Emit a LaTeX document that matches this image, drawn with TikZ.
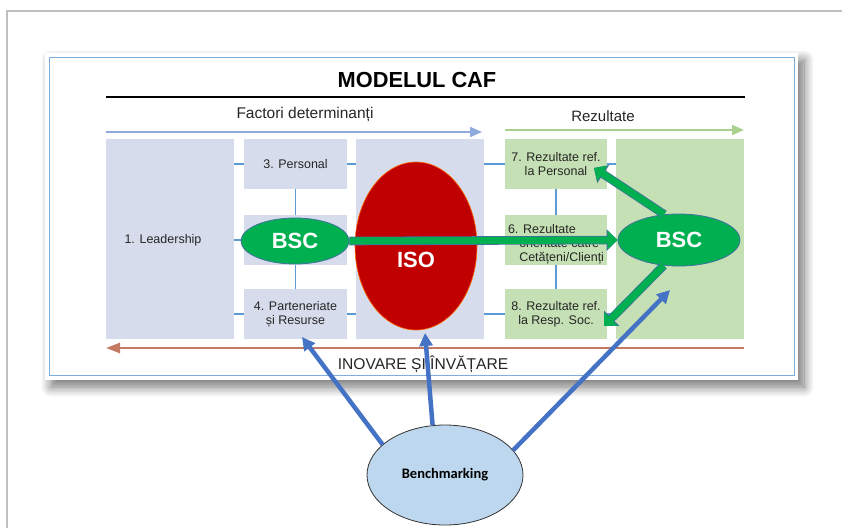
\documentclass[tikz,border=0pt]{standalone}
\usepackage{fontspec}
\setmainfont{Liberation Sans}
\newfontfamily\calibri{Carlito}
\usepackage{tikz}
\usetikzlibrary{arrows.meta,calc,positioning,shapes.geometric,shadows.blur}
\definecolor{boxblue}{RGB}{214,220,235}
\definecolor{boxgreen}{RGB}{197,224,180}
\definecolor{linkblue}{RGB}{91,155,213}
\definecolor{headblue}{RGB}{143,170,220}
\definecolor{headgreen}{RGB}{169,209,142}
\definecolor{innovred}{RGB}{196,121,99}
\definecolor{isored}{RGB}{192,0,0}
\definecolor{bscgreen}{RGB}{0,176,80}
\definecolor{edgeblue}{RGB}{65,113,156}
\definecolor{benchfill}{RGB}{189,215,238}
\definecolor{benchblue}{RGB}{68,114,196}
\tikzset{%
	boxtext/.style  = {align=center, font=\fontsize{12.5}{14}\selectfont, text=black!85},
	factor/.style   = {boxtext, fill=boxblue, inner sep=0pt, minimum width=103pt, minimum height=50pt},
	result/.style   = {factor, fill=boxgreen, minimum width=102pt},
	tall/.style     = {minimum width=128pt, minimum height=200pt},
	link/.style     = {draw=linkblue, line width=1.2pt},
	heading/.style  = {font=\fontsize{15.5}{18}\selectfont, text=black!85},
	bigtext/.style  = {font=\fontsize{22}{26}\selectfont\bfseries, text=white},
	bscshape/.style = {ellipse, fill=bscgreen, draw=edgeblue, line width=0.8pt, inner sep=0pt},
	bscarrow/.style = {draw=bscgreen, line width=7pt, -{Triangle[length=10pt,width=18pt]},
		preaction={draw=edgeblue, line width=8.6pt, -{Triangle[length=11pt,width=21pt]}}},
	bencharrow/.style = {draw=benchblue, line width=4.5pt, -{Triangle[length=13pt,width=13pt]}},
}

\begin{document}
\begin{tikzpicture}[x=1pt,y=-1pt]
	\useasboundingbox (0,0) rectangle (842,528);
	% screenshot frame
	\draw[black!25, line width=1.5pt] (842,11) -- (7,11) -- (7,528);
	% card with shadow
	\node[fill=white, inner sep=0pt, minimum width=753pt, minimum height=327pt,
		blur shadow={shadow xshift=6pt, shadow yshift=-7pt, shadow blur radius=10pt, shadow blur steps=12, shadow opacity=55}]
		(card) at (421.5,216.5) {};
	\draw[linkblue!80, line width=0.9pt] (49,57) rectangle (794,375);
	% title and headings
	\node[font=\fontsize{21.8}{26}\selectfont\bfseries] (title) at (417,80) {MODELUL CAF};
	\draw[line width=2pt] (106,97) -- (745,97);
	\node[heading] (factori) at (305,115) {Factori determinanți};
	\draw[headblue, line width=2pt, -{Triangle[length=12pt,width=10pt]}] (106,132) -- (482,132);
	\node[heading, font=\fontsize{15}{18}\selectfont] (rez) at (603,116) {Rezultate};
	\draw[headgreen, line width=2pt, -{Triangle[length=12pt,width=10pt]}] (505,130) -- (744,130);
	% boxes
	\node[factor, tall] (lead) at (170,239) {};
	\node[boxtext] (leadtxt) at (163,240) {1. Leadership};
	\node[factor] (pers) at (295.5,164) {3. Personal};
	\node[factor] (strat) at (295.5,240) {};
	\node[factor] (part) at (295.5,314) {4. Parteneriate\\ și Resurse};
	\node[factor, tall] (proc) at (420,239) {};
	\node[result] (res7) at (556,164) {7. Rezultate ref.\\ la Personal};
	\node[result] (res6) at (556,240) {};
	\node[boxtext, align=left] (res6txt) at (556,244) {6. Rezultate\\\hspace*{0.9em}orientate către\\\hspace*{0.9em}Cetățeni/Clienți};
	\node[result] (res8) at (556,314) {8. Rezultate ref.\\ la Resp. Soc.};
	\node[result, tall, minimum width=128pt] (resk) at (680,239) {};
	% links between boxes
	\draw[link] (lead.east |- pers) -- (pers.west);
	\draw[link] (pers.east) -- (proc.west |- pers);
	\draw[link] (lead.east |- strat) -- (strat.west);
	\draw[link] (lead.east |- part) -- (part.west);
	\draw[link] (part.east) -- (proc.west |- part);
	\draw[link] (pers.south) -- (strat.north);
	\draw[link] (strat.south) -- (part.north);
	\draw[link] (proc.east |- res7) -- (res7.west);
	\draw[link] (res7.east) -- (resk.west |- res7);
	\draw[link] (proc.east |- res8) -- (res8.west);
	\draw[link] (res8.east) -- (resk.west |- res8);
	\draw[link] (res7.south) -- (res6.north);
	\draw[link] (res6.south) -- (res8.north);
	% innovation arrow
	\draw[innovred, line width=2.5pt, -{Triangle[length=14pt,width=10pt]}] (744,348) -- (106,348);
	\node[font=\fontsize{15.6}{18}\selectfont, text=black!85] (inov) at (423,364) {INOVARE ȘI ÎNVĂȚARE};
	% ISO and BSC
	\node[ellipse, fill=isored, draw=orange!80!red, line width=0.6pt, minimum width=122pt, minimum height=168pt] (iso) at (416,246) {};
	\node[bigtext] (isotxt) at ($(iso)+(0,14)$) {ISO};
	\node[bscshape, minimum width=108pt, minimum height=46pt, bigtext] (lbsc) at (295,241) {BSC};
	\node[bscshape, minimum width=122pt, minimum height=52pt, bigtext] (rbsc) at (679,240) {BSC};
	\coordinate (tip7) at (594,168);
	\coordinate (tip8) at (604,326);
	\draw[bscarrow] (lbsc.east) -- (rbsc.west);
	\draw[bscarrow] (rbsc.120) -- (tip7);
	\draw[bscarrow] (rbsc.239) -- (tip8);
	% benchmarking
	\node[ellipse, fill=benchfill, draw=black!80, line width=0.8pt, minimum width=156pt, minimum height=100pt,
		font=\calibri\bfseries\fontsize{14.5}{17}\selectfont] (bench) at (445,475) {Benchmarking};
	\coordinate (tipp) at (302,337);
	\coordinate (tipi) at (425,333);
	\coordinate (tipk) at (670,290);
	\draw[bencharrow] (bench.154) -- (tipp);
	\draw[bencharrow] (bench.104) -- (tipi);
	\draw[bencharrow] (bench.20) -- (tipk);
\end{tikzpicture}
\end{document}
